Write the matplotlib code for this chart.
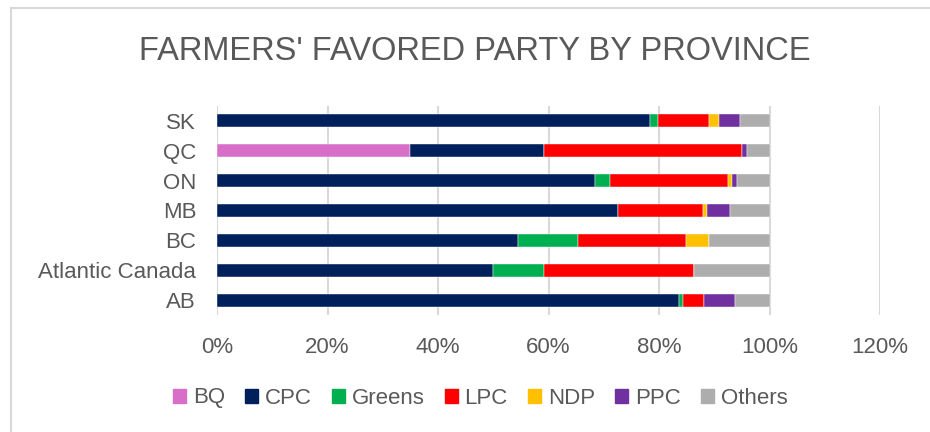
import numpy as np
import matplotlib.pyplot as plt
from matplotlib.lines import Line2D

provinces = ['AB', 'Atlantic Canada', 'BC', 'MB', 'ON', 'QC', 'SK']
parties = ['BQ', 'CPC', 'Greens', 'LPC', 'NDP', 'PPC', 'Others']
colors = ['#D76FC8', '#00205B', '#00B050', '#FF0000', '#FFC000', '#7030A0', '#ADADAD']

# shares (fraction) per province, same order as provinces
bq = [0.0, 0.0, 0.0, 0.0, 0.0, 0.349, 0.0]
cpc = [0.837, 0.499, 0.544, 0.725, 0.684, 0.243, 0.784]
greens = [0.006, 0.092, 0.109, 0.0, 0.028, 0.0, 0.014]
lpc = [0.039, 0.272, 0.195, 0.154, 0.212, 0.359, 0.092]
ndp = [0.0, 0.0, 0.043, 0.008, 0.008, 0.0, 0.018]
ppc = [0.055, 0.0, 0.0, 0.041, 0.010, 0.009, 0.038]
others = [0.063, 0.137, 0.109, 0.072, 0.058, 0.040, 0.054]

series = [bq, cpc, greens, lpc, ndp, ppc, others]

plt.rcParams['font.family'] = ['Liberation Sans', 'DejaVu Sans']
txt = '#595959'

fig = plt.figure(figsize=(9.3, 4.32), dpi=100)
ax = fig.add_axes([217 / 930, 1 - 315 / 432, (880 - 217) / 930, (315 - 106) / 432])

y = np.arange(len(provinces))
left = np.zeros(len(provinces))
for name, vals, c in zip(parties, series, colors):
    vals = np.array(vals)
    ax.barh(y, vals, left=left, height=0.44, color=c, label=name,
            edgecolor='white', linewidth=0.3, zorder=3)
    left += vals

ax.set_xlim(0, 1.2)
ax.set_ylim(-0.5, len(provinces) - 0.5)
ax.set_xticks(np.arange(0, 1.21, 0.2))
ax.set_xticklabels([f'{int(round(v * 100))}%' for v in np.arange(0, 1.21, 0.2)])
ax.set_yticks(y)
ax.set_yticklabels(provinces)
ax.grid(axis='x', color='#D9D9D9', linewidth=1.5, zorder=0)
for s in ax.spines.values():
    s.set_visible(False)
ax.axvline(0, color='#D9D9D9', linewidth=1.5, zorder=1)
ax.tick_params(length=0, labelsize=16, colors=txt)
ax.tick_params(axis='x', pad=16)
ax.tick_params(axis='y', pad=15)

fig.text(475 / 930, 1 - 52 / 432, "FARMERS' FAVORED PARTY BY PROVINCE",
         ha='center', va='center', fontsize=23.5, color=txt)

handles = [plt.Rectangle((0, 0), 1, 1, color=c) for c in colors]
fig.legend(handles, parties, loc='center', bbox_to_anchor=(480 / 930, 1 - 398 / 432),
           ncol=7, frameon=False, fontsize=16, labelcolor=txt,
           handlelength=0.6, handleheight=0.6, handletextpad=0.3, columnspacing=0.9)

# outer chart frame
fig.add_artist(Line2D([11 / 930, 1], [1 - 8 / 432, 1 - 8 / 432], color='#D9D9D9', lw=1.5))
fig.add_artist(Line2D([11 / 930, 11 / 930], [0, 1 - 8 / 432], color='#D9D9D9', lw=1.5))

fig.savefig('out.png', dpi=100)
